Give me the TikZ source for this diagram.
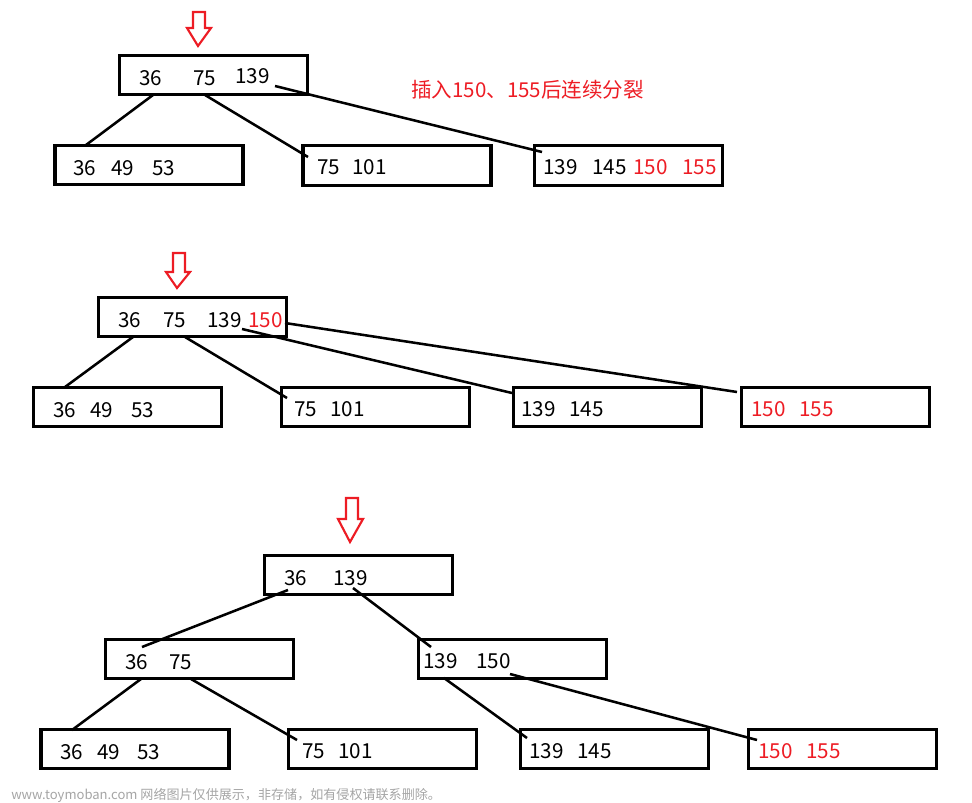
\documentclass[tikz,border=0pt]{standalone}
\usepackage{fontspec}
\setmainfont{Noto Sans CJK SC}
\definecolor{pred}{RGB}{237,28,36}
\definecolor{wm}{RGB}{165,165,165}
\tikzset{
  keybox/.style={draw=black, line width=2.3pt, minimum width=141pt, minimum height=29.5pt, inner sep=0pt},
  num/.style={anchor=base west, inner sep=0pt, font=\fontsize{15.5}{17}\selectfont},
  rnum/.style={num, text=pred},
  link/.style={line width=1.9pt, black},
  downarrow/.style={draw=pred, line width=1.6pt, fill=white}
}
\begin{document}
\begin{tikzpicture}[x=0.75pt,y=-0.75pt]
\useasboundingbox (0,0) rectangle (972,803);
% ---------- level 1 ----------
\draw[downarrow] (193,12) -- (205,12) -- (205,28) -- (211,28) -- (198,46) -- (187,28) -- (193,28) -- cycle;
\node[keybox] (r1) at (213.5,75) {};
\node[keybox] (c1a) at (149,165) {};
\node[keybox] (c1b) at (397,165.5) {};
\node[keybox] (c1c) at (628.5,165.5) {};
\node[num] (t1) at (139,85) {36};
\node[num] (t2) at (193,85) {75};
\node[num] (t3) at (235,83) {139};
\node[num] (t4) at (73,175) {36};
\node[num] (t5) at (111,175) {49};
\node[num] (t6) at (152,175) {53};
\node[num] (t7) at (317,174) {75};
\node[num] (t8) at (352,174) {101};
\node[num] (t9) at (543,174) {139};
\node[num] (t10) at (592,174) {145};
\node[rnum] (t11) at (633,174) {150};
\node[rnum] (t12) at (682,174) {155};
\node[anchor=base west, inner sep=0pt, text=pred, font=\fontsize{15.4}{17}\selectfont] (title) at (411,97) {插入150、155后连续分裂};
\coordinate (p1a) at (153,95); \coordinate (q1a) at (86,145);
\coordinate (p1b) at (205,95); \coordinate (q1b) at (308,157);
\coordinate (p1c) at (275,86); \coordinate (q1c) at (542,152);
\draw[link] (p1a) -- (q1a);
\draw[link] (p1b) -- (q1b);
\draw[link] (p1c) -- (q1c);
% ---------- level 2 ----------
\draw[downarrow] (173,253) -- (185,253) -- (185,272) -- (190,272) -- (177,288) -- (166,272) -- (173,272) -- cycle;
\node[keybox] (r2) at (192.5,317) {};
\node[keybox] (c2a) at (127.5,407) {};
\node[keybox] (c2b) at (375.5,407) {};
\node[keybox] (c2c) at (607.5,407) {};
\node[keybox] (c2d) at (835.5,407) {};
\node[num] (u1) at (118,327) {36};
\node[num] (u2) at (163,327) {75};
\node[num] (u3) at (207,327) {139};
\node[rnum] (u4) at (248,327) {150};
\node[num] (u5) at (53,417) {36};
\node[num] (u6) at (90,417) {49};
\node[num] (u7) at (131,417) {53};
\node[num] (u8) at (294,416) {75};
\node[num] (u9) at (330,416) {101};
\node[num] (u10) at (521,416) {139};
\node[num] (u11) at (569,416) {145};
\node[rnum] (u12) at (751,416) {150};
\node[rnum] (u13) at (799,416) {155};
\coordinate (p2a) at (133,337); \coordinate (q2a) at (65,387);
\coordinate (p2b) at (185,337); \coordinate (q2b) at (287,398);
\coordinate (p2c) at (242,329); \coordinate (q2c) at (512,393);
\coordinate (p2d) at (285,323); \coordinate (q2d) at (737,392);
\draw[link] (p2a) -- (q2a);
\draw[link] (p2b) -- (q2b);
\draw[link] (p2c) -- (q2c);
\draw[link] (p2d) -- (q2d);
% ---------- level 3 ----------
\draw[downarrow] (346,498) -- (358,498) -- (358,519) -- (363,519) -- (350,542) -- (338,519) -- (346,519) -- cycle;
\node[keybox] (r3) at (358.5,575) {};
\node[keybox] (m3a) at (199.5,659) {};
\node[keybox] (m3b) at (512.5,659) {};
\node[keybox] (b3a) at (135,749) {};
\node[keybox] (b3b) at (382.5,749) {};
\node[keybox] (b3c) at (614.5,749) {};
\node[keybox] (b3d) at (842.5,749) {};
\node[num] (v1) at (284,585) {36};
\node[num] (v2) at (333,585) {139};
\node[num] (v3) at (125,669) {36};
\node[num] (v4) at (169,669) {75};
\node[num] (v5) at (423,668) {139};
\node[num] (v6) at (476,668) {150};
\node[num] (v7) at (60,759) {36};
\node[num] (v8) at (97,759) {49};
\node[num] (v9) at (137,759) {53};
\node[num] (v10) at (302,758) {75};
\node[num] (v11) at (338,758) {101};
\node[num] (v12) at (529,758) {139};
\node[num] (v13) at (577,758) {145};
\node[rnum] (v14) at (758,758) {150};
\node[rnum] (v15) at (806,758) {155};
\coordinate (p3a) at (288,590); \coordinate (q3a) at (142,647);
\coordinate (p3b) at (353,588); \coordinate (q3b) at (431,647);
\coordinate (p3c) at (141,679); \coordinate (q3c) at (72,730);
\coordinate (p3d) at (191,679); \coordinate (q3d) at (297,740);
\coordinate (p3e) at (444,678); \coordinate (q3e) at (527,738);
\coordinate (p3f) at (510,674); \coordinate (q3f) at (757,740);
\draw[link] (p3a) -- (q3a);
\draw[link] (p3b) -- (q3b);
\draw[link] (p3c) -- (q3c);
\draw[link] (p3d) -- (q3d);
\draw[link] (p3e) -- (q3e);
\draw[link] (p3f) -- (q3f);
% ---------- watermark ----------
\node[anchor=base west, inner sep=0pt, text=wm, font=\fontsize{9.8}{12}\selectfont] (wmark) at (11,799) {www.toymoban.com 网络图片仅供展示，非存储，如有侵权请联系删除。};
\end{tikzpicture}
\end{document}
